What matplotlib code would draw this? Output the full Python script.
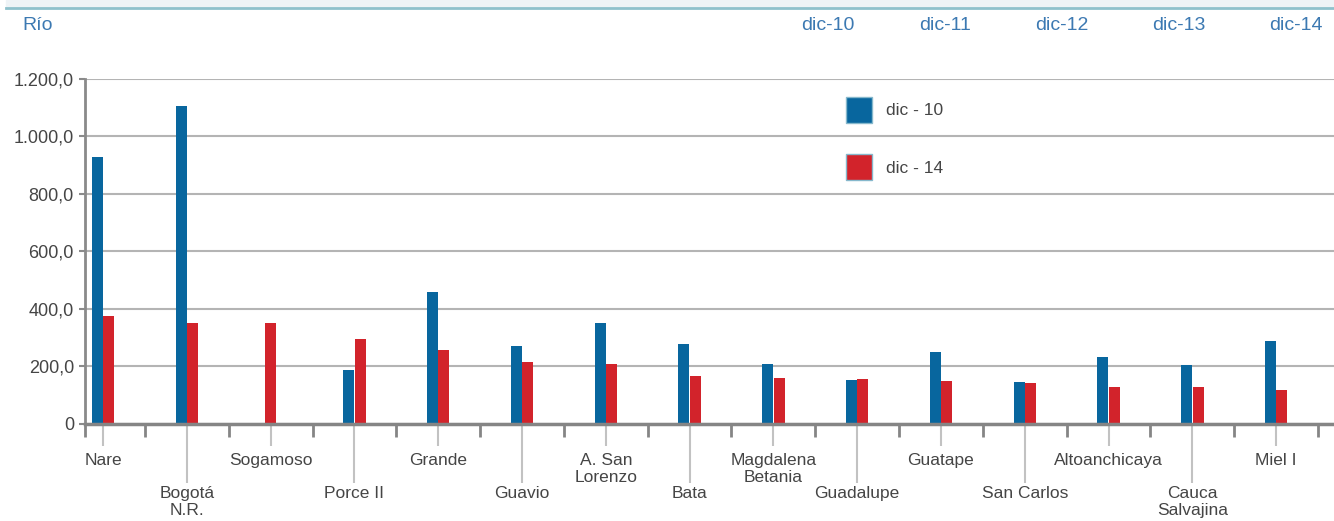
import numpy as np
import matplotlib
matplotlib.use('Agg')
import matplotlib.pyplot as plt
from matplotlib.patches import Rectangle
from matplotlib.lines import Line2D

plt.rcParams['font.family'] = ['Liberation Sans', 'DejaVu Sans']

rios = ['Nare', 'Bogotá\nN.R.', 'Sogamoso', 'Porce II', 'Grande', 'Guavio',
        'A. San\nLorenzo', 'Bata', 'Magdalena\nBetania', 'Guadalupe', 'Guatape',
        'San Carlos', 'Altoanchicaya', 'Cauca\nSalvajina', 'Miel I']
dic10 = [926, 1106, np.nan, 188, 459, 271, 351, 278, 209, 153, 250, 146, 233, 205, 289]
dic14 = [376, 352, 352, 296, 257, 216, 209, 167, 160, 158, 150, 143, 129, 129, 118]
yticks = [0, 200, 400, 600, 800, 1000, 1200]
ytick_labels = ['0', '200,0', '400,0', '600,0', '800,0', '1.000,0', '1.200,0']
header = ['dic-10', 'dic-11', 'dic-12', 'dic-13', 'dic-14']

BLUE = '#08669e'
RED = '#d2232b'
TXT = '#454545'
HEAD = '#3c79b2'

W, H = 1334, 521
fig = plt.figure(figsize=(W / 100, H / 100), dpi=100)
ax = fig.add_axes([85 / W, (H - 424) / H, (W - 85) / W, 345.5 / H])

x = np.arange(len(rios))
bw = 0.131
b10 = np.array(dic10, dtype=float)
b14 = np.array(dic14, dtype=float)
has10 = ~np.isnan(b10)
ax.bar(x[has10] - bw / 2 - 0.003, b10[has10], bw, color=BLUE, label='dic - 10', zorder=3)
red_x = np.where(has10, x + bw / 2 + 0.003, x)
ax.bar(red_x, b14, bw, color=RED, label='dic - 14', zorder=3)

ax.set_xlim(-0.215, 14.69)
ax.set_ylim(0, 1200)
ax.set_yticks(yticks)
ax.set_yticklabels(ytick_labels)
ax.grid(axis='y', color='#b4b4b4', lw=1.5, zorder=0)
ax.set_axisbelow(True)

for s in ['top', 'right']:
    ax.spines[s].set_visible(False)
ax.spines['bottom'].set_color('#858585')
ax.spines['bottom'].set_linewidth(2.5)
ax.spines['bottom'].set_zorder(4)
ax.spines['left'].set_color('#8a8a8a')
ax.spines['left'].set_linewidth(2)

ax.tick_params(axis='y', length=4, width=1.5, color='#8a8a8a', pad=4,
               labelsize=13, labelcolor=TXT)
ax.set_xticks([])
ax.set_xticks(np.concatenate([[-0.215], x + 0.5]), minor=True)
ax.tick_params(axis='x', which='minor', length=9.5, width=2, color='#858585')

# leader lines and labels, alternating rows
for i, name in enumerate(rios):
    low = i % 2 == 1
    depth = 59 if low else 22
    ax.vlines(i, -depth / 345.5, 0, transform=ax.get_xaxis_transform(),
              color='#c2c2c2', lw=1.5, clip_on=False, zorder=1)
    ax.annotate(name, xy=(i, 0), xycoords=('data', 'axes fraction'),
                xytext=(0, -62 if low else -29), textcoords='offset pixels',
                ha='center', va='top', fontsize=12.5, color=TXT,
                linespacing=1.2, annotation_clip=False)

leg = ax.legend(loc='upper left', bbox_to_anchor=(837 / W, 1 - 88 / H),
                bbox_transform=fig.transFigure, frameon=False, borderpad=0,
                handlelength=1.5, handleheight=1.93, labelspacing=1.81,
                handletextpad=0.85, fontsize=12.5, labelcolor=TXT)
for h in leg.legend_handles:
    h.set_edgecolor('#86b8cc')
    h.set_linewidth(1)

# header band
fig.patches.append(Rectangle((6 / W, 1 - 8 / H), 1, 8 / H, transform=fig.transFigure,
                             color='#eef3f6', zorder=0))
fig.lines.append(Line2D([6 / W, 1], [1 - 8 / H, 1 - 8 / H], transform=fig.transFigure,
                        color='#8fc1cc', lw=2))
fig.text(22 / W, 1 - 26 / H, 'Río', color=HEAD, fontsize=14, va='center', ha='left')
for k, lab in enumerate(header):
    fig.text((828 + k * 117) / W, 1 - 26 / H, lab, color=HEAD, fontsize=14,
             va='center', ha='center')

fig.savefig('out.png', dpi=100)
